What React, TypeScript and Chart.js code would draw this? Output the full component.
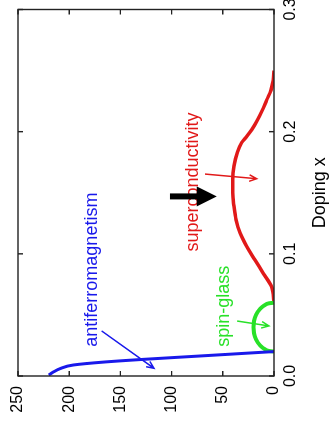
import React, { useEffect, useRef } from 'react';
import { Chart, registerables } from 'chart.js';

Chart.register(...registerables);

// Axis ticks
const DOPING_TICKS = [0, 0.1, 0.2, 0.3];
const DOPING_TICK_LABELS = ['0.0', '0.1', '0.2', '0.3'];
const TEMP_TICKS = [0, 50, 100, 150, 200, 250];
const TEMP_TICK_LABELS = ['0', '50', '100', '150', '200', '250'];

// Antiferromagnetism boundary (doping x, temperature)
const AFM_X = [0.0008, 0.003, 0.006, 0.009, 0.0115, 0.0135, 0.016, 0.018, 0.02];
const AFM_T = [220, 216, 209, 196, 165, 130, 80, 40, 0];

// Spin-glass boundary
const SG_X = [0.02, 0.0205, 0.022, 0.025, 0.03, 0.035, 0.04, 0.045, 0.05, 0.055, 0.058, 0.0595, 0.06];
const SG_T = [0, 5, 9, 13.5, 17.5, 19.5, 20, 19.5, 17.5, 13.5, 9, 5, 0];

// Superconductivity dome
const SC_X = [0.06, 0.073, 0.084, 0.095, 0.106, 0.117, 0.128, 0.139, 0.15, 0.161, 0.172, 0.183, 0.191, 0.196, 0.2016, 0.2085, 0.2166, 0.226, 0.234, 0.242, 0.25];
const SC_T = [0, 2.3, 10.4, 18.6, 26.7, 33.2, 37.1, 39.1, 40.4, 40.4, 39.1, 35.8, 31.6, 26.7, 21.8, 16.9, 12, 7.1, 2.9, 0.8, 0];

// Annotation labels (data coordinates of the text's left baseline)
const LABEL_TEXT = ['antiferromagnetism', 'spin-glass', 'superconductivity'];
const LABEL_X = [0.024, 0.024, 0.1019];
const LABEL_T = [173, 43.5, 74.2];

// Thin annotation arrows (from -> tip)
const ARROW_X0 = [0.0369, 0.045, 0.1653];
const ARROW_T0 = [168.3, 36, 67.4];
const ARROW_X1 = [0.0063, 0.041, 0.1615];
const ARROW_T1 = [117.2, 5, 16.9];

// Thick black arrow
const BIG_ARROW_X = [0.147, 0.147];
const BIG_ARROW_T = [101.6, 56];

const BLUE = 'rgb(25,25,235)';
const GREEN = 'rgb(40,225,40)';
const RED = 'rgb(225,25,25)';
const COLORS = [BLUE, GREEN, RED];
const FONT = '"Liberation Sans", Arial, Helvetica, sans-serif';

function drawThinArrow(ctx: CanvasRenderingContext2D, x0: number, y0: number, x1: number, y1: number, color: string) {
  const ang = Math.atan2(y1 - y0, x1 - x0);
  const hl = 8;
  const ha = 0.42;
  ctx.strokeStyle = color;
  ctx.lineWidth = 1.5;
  ctx.beginPath();
  ctx.moveTo(x0, y0);
  ctx.lineTo(x1, y1);
  ctx.moveTo(x1 - hl * Math.cos(ang - ha), y1 - hl * Math.sin(ang - ha));
  ctx.lineTo(x1, y1);
  ctx.lineTo(x1 - hl * Math.cos(ang + ha), y1 - hl * Math.sin(ang + ha));
  ctx.stroke();
}

const framePlugin = {
  id: 'frameAndNotes',
  afterDatasetsDraw(chart: any) {
    const { ctx, chartArea: a, scales } = chart;
    const xs = scales.x;
    const ys = scales.y;
    ctx.save();

    // labels
    ctx.font = `18px ${FONT}`;
    ctx.textAlign = 'left';
    ctx.textBaseline = 'alphabetic';
    LABEL_TEXT.forEach((t, i) => {
      ctx.fillStyle = COLORS[i];
      ctx.fillText(t, xs.getPixelForValue(LABEL_X[i]), ys.getPixelForValue(LABEL_T[i]));
    });

    // thin arrows
    ARROW_X0.forEach((_, i) => {
      drawThinArrow(
        ctx,
        xs.getPixelForValue(ARROW_X0[i]), ys.getPixelForValue(ARROW_T0[i]),
        xs.getPixelForValue(ARROW_X1[i]), ys.getPixelForValue(ARROW_T1[i]),
        COLORS[i]
      );
    });

    // big black arrow
    const bx = xs.getPixelForValue(BIG_ARROW_X[0]);
    const by0 = ys.getPixelForValue(BIG_ARROW_T[0]);
    const by1 = ys.getPixelForValue(BIG_ARROW_T[1]);
    const headLen = 20;
    const headHalf = 10;
    const shaftHalf = 3;
    ctx.fillStyle = '#000';
    ctx.fillRect(bx - shaftHalf, by0, shaftHalf * 2, by1 - headLen - by0 + 1);
    ctx.beginPath();
    ctx.moveTo(bx - headHalf, by1 - headLen);
    ctx.lineTo(bx + headHalf, by1 - headLen);
    ctx.lineTo(bx, by1);
    ctx.closePath();
    ctx.fill();

    // frame
    ctx.strokeStyle = '#222';
    ctx.lineWidth = 1.4;
    ctx.strokeRect(a.left, a.top, a.right - a.left, a.bottom - a.top);
    const tl = 5;
    ctx.beginPath();
    DOPING_TICKS.forEach((v) => {
      const p = xs.getPixelForValue(v);
      ctx.moveTo(p, a.bottom);
      ctx.lineTo(p, a.bottom - tl);
      ctx.moveTo(p, a.top);
      ctx.lineTo(p, a.top + tl);
    });
    TEMP_TICKS.forEach((v) => {
      const p = ys.getPixelForValue(v);
      ctx.moveTo(a.left, p);
      ctx.lineTo(a.left + tl, p);
      ctx.moveTo(a.right, p);
      ctx.lineTo(a.right - tl, p);
    });
    ctx.stroke();
    ctx.restore();
  },
};

function toPoints(xs: number[], ts: number[]) {
  return xs.map((x, i) => ({ x, y: ts[i] }));
}

export default function App() {
  const ref = useRef<HTMLCanvasElement | null>(null);

  useEffect(() => {
    if (!ref.current) return;
    const lineDefaults = {
      showLine: true,
      pointRadius: 0,
      pointHoverRadius: 0,
      fill: false,
      cubicInterpolationMode: 'monotone' as const,
    };
    const chart = new Chart(ref.current, {
      type: 'scatter',
      data: {
        datasets: [
          { ...lineDefaults, label: 'antiferromagnetism', data: toPoints(AFM_X, AFM_T), borderColor: BLUE, borderWidth: 3 },
          { ...lineDefaults, label: 'spin-glass', data: toPoints(SG_X, SG_T), borderColor: GREEN, borderWidth: 4 },
          { ...lineDefaults, label: 'superconductivity', data: toPoints(SC_X, SC_T), borderColor: RED, borderWidth: 3.5 },
        ],
      },
      options: {
        animation: false,
        responsive: false,
        devicePixelRatio: 1,
        layout: { padding: { top: 18, right: 9.5, left: 0, bottom: 0 } },
        plugins: { legend: { display: false }, tooltip: { enabled: false } },
        scales: {
          x: {
            type: 'linear',
            min: 0,
            max: 0.3,
            grid: { display: false, drawTicks: false },
            border: { display: false },
            afterBuildTicks: (s: any) => {
              s.ticks = DOPING_TICKS.map((v) => ({ value: v }));
            },
            ticks: {
              autoSkip: false,
              maxRotation: 0,
              minRotation: 0,
              padding: 7,
              color: '#000',
              font: { family: FONT, size: 16 },
              callback: (_v: any, i: number) => DOPING_TICK_LABELS[i],
            },
            title: {
              display: true,
              text: 'Doping x',
              color: '#000',
              font: { family: FONT, size: 18 },
              padding: 0,
            },
            afterFit: (s: any) => {
              s.height = 57;
              s.paddingLeft = 0;
              s.paddingRight = 0;
            },
          },
          y: {
            type: 'linear',
            min: 0,
            max: 250,
            grid: { display: false, drawTicks: false },
            border: { display: false },
            afterBuildTicks: (s: any) => {
              s.ticks = TEMP_TICKS.map((v) => ({ value: v }));
            },
            ticks: {
              autoSkip: false,
              padding: 10,
              color: '#000',
              font: { family: FONT, size: 16 },
              callback: (_v: any, i: number) => TEMP_TICK_LABELS[i],
            },
            afterFit: (s: any) => {
              s.width = 46;
              s.paddingTop = 0;
              s.paddingBottom = 0;
            },
          },
        },
      },
      plugins: [framePlugin],
    });
    return () => chart.destroy();
  }, []);

  return (
    <div
      style={{
        position: 'fixed',
        left: 0,
        top: 0,
        width: 331,
        height: 422,
        overflow: 'hidden',
        background: '#fff',
      }}
    >
      <canvas
        ref={ref}
        width={422}
        height={331}
        style={{
          position: 'absolute',
          left: 0,
          top: 0,
          width: 422,
          height: 331,
          transformOrigin: '0 0',
          transform: 'translate(0px, 422px) rotate(-90deg)',
        }}
      />
    </div>
  );
}
